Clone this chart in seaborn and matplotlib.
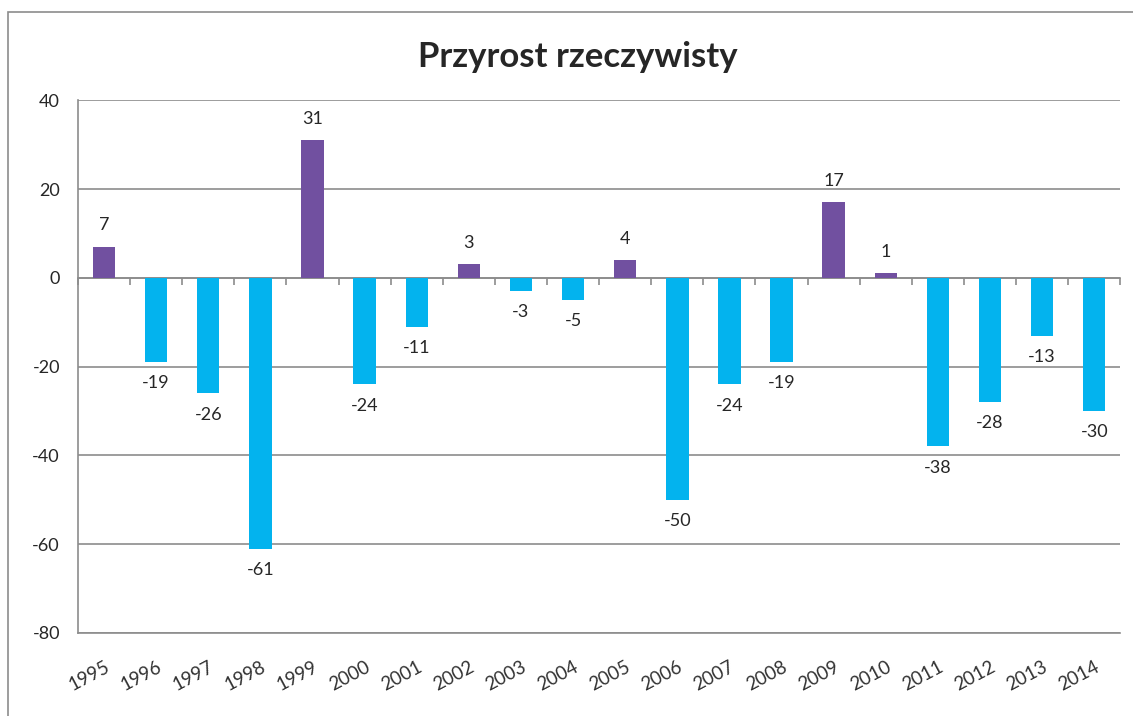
import matplotlib
matplotlib.use("Agg")
import matplotlib.pyplot as plt
import seaborn as sns
import pandas as pd
from matplotlib.patches import Rectangle

# dane
years = [str(y) for y in range(1995, 2015)]
values = [7, -19, -26, -61, 31, -24, -11, 3, -3, -5, 4, -50, -24, -19, 17, 1, -38, -28, -13, -30]
title = "Przyrost rzeczywisty"

df = pd.DataFrame({"rok": years, "przyrost": values})
df["znak"] = ["dodatni" if v > 0 else "ujemny" for v in values]

sns.set_style("white")
plt.rcParams["font.family"] = ["Lato", "DejaVu Sans"]
plt.rcParams["axes.unicode_minus"] = False

fig = plt.figure(figsize=(11.33, 7.16), dpi=100)
ax = fig.add_axes([0.0688, 0.116, 0.92, 0.744])

sns.barplot(data=df, x="rok", y="przyrost", hue="znak",
            palette={"dodatni": "#7150A0", "ujemny": "#03B3EE"},
            saturation=1, dodge=False, width=0.43, legend=False, ax=ax, zorder=3,
            edgecolor="none", linewidth=0)

ax.set_ylim(-80, 40)
ax.set_xlim(-0.5, len(years) - 0.5)
ax.set_yticks(range(-80, 41, 20))
ax.yaxis.grid(True, color="#8c8c8c", linewidth=1.2, zorder=0)
ax.set_axisbelow(True)
ax.set_xlabel("")
ax.set_ylabel("")
ax.set_title(title, fontsize=25, fontweight="bold", pad=24, x=0.48)

for s in ["top", "right"]:
    ax.spines[s].set_visible(False)
ax.spines["left"].set_color("#8c8c8c")
ax.spines["left"].set_linewidth(1.2)
ax.spines["bottom"].set_color("#8c8c8c")
ax.spines["bottom"].set_linewidth(1.2)

ax.tick_params(axis="y", direction="out", length=5, width=1.2, color="#8c8c8c",
               labelsize=13, pad=8)
ax.tick_params(axis="x", length=0, labelsize=13.5, pad=18, labelcolor="#333333")
plt.setp(ax.get_xticklabels(), rotation=28, ha="right", rotation_mode="anchor")

# os zerowa z kreskami między kategoriami
zero_pos = (0 - (-80)) / 120
sec = ax.secondary_xaxis(zero_pos)
sec.set_xticks([i - 0.5 for i in range(len(years) + 1)])
sec.set_xticklabels([])
sec.tick_params(direction="out", length=5, color="#8c8c8c", width=1.2)
sec.spines["bottom"].set_color("#8c8c8c")
sec.spines["bottom"].set_linewidth(1.2)
sec.spines["top"].set_visible(False)
sec.spines["bottom"].set_visible(True)
sec.xaxis.set_ticks_position("bottom")

# etykiety wartości
for i, v in enumerate(values):
    if v >= 0:
        ax.text(i, v + 3, str(v), ha="center", va="bottom", fontsize=13)
    else:
        ax.text(i, v - 3, str(v), ha="center", va="top", fontsize=13)

# ramka wykresu
fig.patches.append(Rectangle((0.007, -0.05), 1.2, 1.033, transform=fig.transFigure,
                             fill=False, edgecolor="#8c8c8c", linewidth=1.2))

fig.savefig("out.png", dpi=100)
